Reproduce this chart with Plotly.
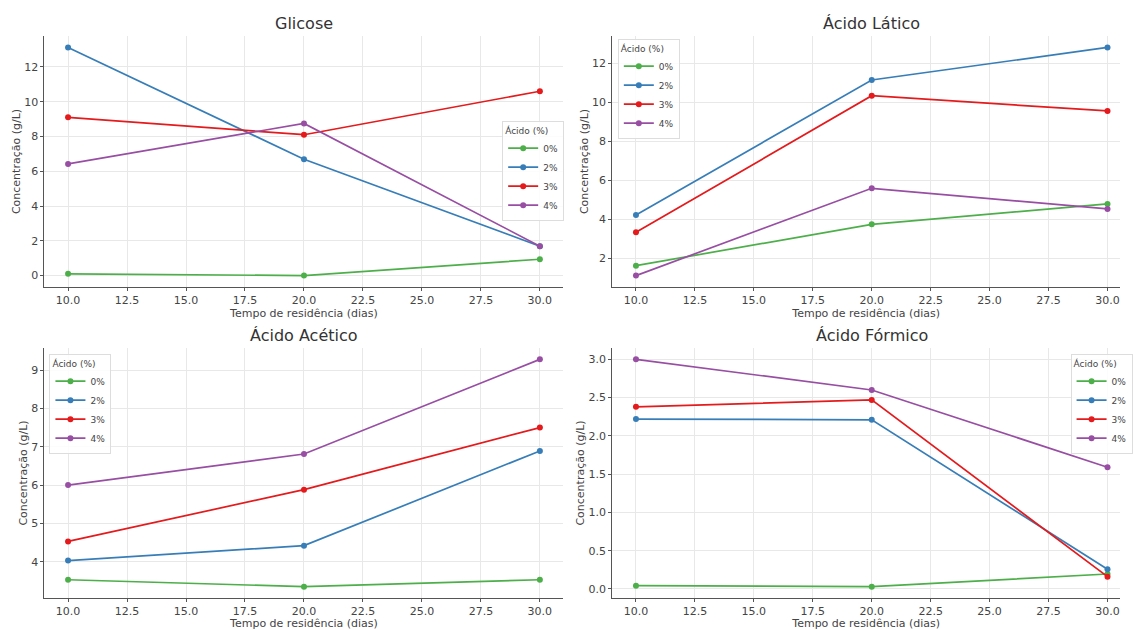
import plotly.graph_objects as go

# ---------------- data ----------------
dias = [10, 20, 30]
acidos = ["0%", "2%", "3%", "4%"]
cores = ["#4daf4a", "#377eb8", "#e41a1c", "#984ea3"]

glicose = {
    "0%": [0.10, 0.00, 0.94],
    "2%": [13.12, 6.69, 1.69],
    "3%": [9.10, 8.10, 10.60],
    "4%": [6.42, 8.75, 1.69],
}
acido_latico = {
    "0%": [1.62, 3.74, 4.79],
    "2%": [4.22, 11.15, 12.82],
    "3%": [3.33, 10.34, 9.56],
    "4%": [1.11, 5.59, 4.53],
}
acido_acetico = {
    "0%": [3.53, 3.35, 3.53],
    "2%": [4.03, 4.42, 6.89],
    "3%": [4.53, 5.88, 7.50],
    "4%": [6.00, 6.81, 9.28],
}
acido_formico = {
    "0%": [0.043, 0.030, 0.195],
    "2%": [2.22, 2.21, 0.256],
    "3%": [2.38, 2.47, 0.160],
    "4%": [3.00, 2.60, 1.59],
}

titulos = ["Glicose", "Ácido Lático", "Ácido Acético", "Ácido Fórmico"]
paineis = [glicose, acido_latico, acido_acetico, acido_formico]
y_ticks = [
    [0, 2, 4, 6, 8, 10, 12],
    [2, 4, 6, 8, 10, 12],
    [4, 5, 6, 7, 8, 9],
    [0.0, 0.5, 1.0, 1.5, 2.0, 2.5, 3.0],
]
x_ticks = [10.0, 12.5, 15.0, 17.5, 20.0, 22.5, 25.0, 27.5, 30.0]
x_label = "Tempo de residência (dias)"
y_label = "Concentração (g/L)"
legend_title = "Ácido (%)"

# ---------------- layout geometry ----------------
W, H = 1133, 630
FONT = "DejaVu Sans"
TXT = "#444444"

def px_x(v):
    return v / W

def px_y(v):
    return 1 - v / H

left_dom = [px_x(45), px_x(570)]
right_dom = [px_x(619.5), 1.0]
top_dom = [px_y(287), px_y(36)]
bot_dom = [px_y(598), px_y(348)]

x_doms = [left_dom, right_dom, left_dom, right_dom]
y_doms = [top_dom, top_dom, bot_dom, bot_dom]
# right-hand panels are cut by the image edge
x_ranges = [[9, 31], [9, 30.53], [9, 31], [9, 30.53]]


def pad_range(panel):
    vals = [v for s in panel.values() for v in s]
    lo, hi = min(vals), max(vals)
    m = (hi - lo) * 0.05
    return [lo - m, hi + m]


legend_pos = [
    (px_x(508), px_y(121)),
    (px_x(625), px_y(39)),
    (px_x(50), px_y(354)),
    (px_x(1083), px_y(354)),
]

fig = go.Figure()

layout = dict(
    width=W,
    height=H,
    autosize=False,
    margin=dict(l=0, r=0, t=0, b=0),
    paper_bgcolor="white",
    plot_bgcolor="white",
    font=dict(family=FONT, color=TXT, size=11),
    annotations=[],
)

for i, panel in enumerate(paineis):
    n = i + 1
    xa = "x" if n == 1 else f"x{n}"
    ya = "y" if n == 1 else f"y{n}"
    leg = "legend" if n == 1 else f"legend{n}"
    for a, c in zip(acidos, cores):
        fig.add_trace(
            go.Scatter(
                x=dias,
                y=panel[a],
                name=a,
                mode="lines+markers",
                line=dict(color=c, width=1.7),
                marker=dict(color=c, size=6),
                xaxis=xa,
                yaxis=ya,
                legend=leg,
            )
        )
    xkey = "xaxis" if n == 1 else f"xaxis{n}"
    ykey = "yaxis" if n == 1 else f"yaxis{n}"
    layout[xkey] = dict(
        domain=x_doms[i],
        anchor=ya,
        range=x_ranges[i],
        tickvals=x_ticks,
        ticktext=[f"{t:.1f}" for t in x_ticks],
        showgrid=True,
        gridcolor="#e8e8e8",
        gridwidth=0.8,
        zeroline=False,
        showline=True,
        linecolor="#555555",
        linewidth=1.2,
        ticks="outside",
        ticklen=3,
        tickcolor="#555555",
        tickfont=dict(size=11, color=TXT),
        title=dict(text=x_label, font=dict(size=11, color=TXT), standoff=3),
    )
    yt = y_ticks[i]
    layout[ykey] = dict(
        domain=y_doms[i],
        anchor=xa,
        range=pad_range(panel),
        tickvals=yt,
        ticktext=[f"{t:.1f}" for t in yt] if i == 3 else [str(t) for t in yt],
        showgrid=True,
        gridcolor="#e8e8e8",
        gridwidth=0.8,
        zeroline=False,
        showline=True,
        linecolor="#555555",
        linewidth=1.2,
        ticks="outside",
        ticklen=3,
        tickcolor="#555555",
        tickfont=dict(size=11, color=TXT),
        title=dict(text=y_label, font=dict(size=11, color=TXT), standoff=1),
    )
    lx, ly = legend_pos[i]
    layout[leg] = dict(
        x=lx,
        y=ly,
        xanchor="left",
        yanchor="top",
        bgcolor="rgba(255,255,255,0.85)",
        bordercolor="#dddddd",
        borderwidth=1,
        font=dict(size=9, color=TXT),
        title=dict(text=legend_title, font=dict(size=9, color=TXT)),
        tracegroupgap=0,
        itemwidth=30,
    )
    xc = (x_doms[i][0] + x_doms[i][1]) / 2 if i % 2 == 0 else px_x(882)
    yc = y_doms[i][1]
    layout["annotations"].append(
        dict(
            text=titulos[i],
            x=xc,
            y=yc,
            xref="paper",
            yref="paper",
            xanchor="center",
            yanchor="bottom",
            yshift=1,
            showarrow=False,
            font=dict(size=16, color="#333333", family=FONT),
        )
    )

fig.update_layout(**layout)

fig.write_html(
    "out.html",
    config={"displayModeBar": False, "responsive": False},
    post_script=(
        "document.body.style.margin='0';"
        "document.body.style.overflow='hidden';"
        "document.documentElement.style.overflow='hidden';"
    ),
)
